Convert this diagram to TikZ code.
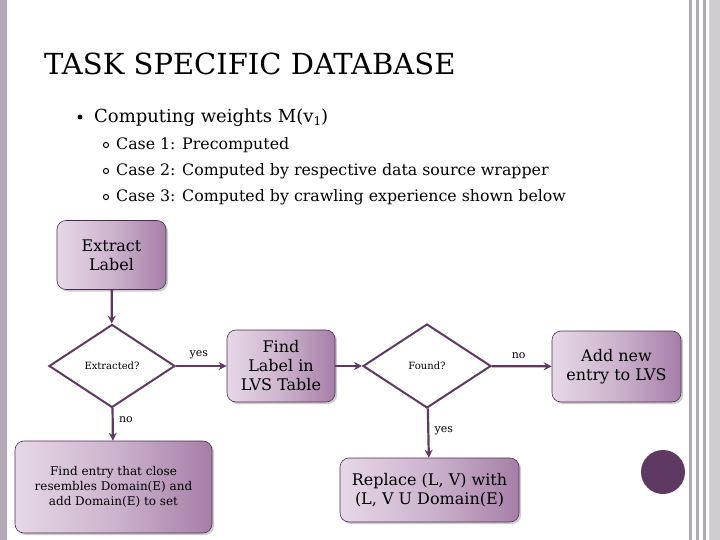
\documentclass[tikz,border=0pt]{standalone}
\usepackage{fontspec}
\setmainfont{DejaVu Serif}
\usetikzlibrary{shapes.geometric,arrows.meta,shadows}
\definecolor{dk}{HTML}{5E3A63}
\definecolor{lt}{HTML}{E6D8E6}
\definecolor{md}{HTML}{A67EA8}
\definecolor{bar}{HTML}{B4A8B8}
\begin{document}
\begin{tikzpicture}[x=1pt,y=-1pt,
 box/.style={draw=dk!80!black,line width=0.6pt,rounded corners=9pt,left color=lt,right color=md,middle color=lt!60!md,drop shadow={shadow xshift=2pt,shadow yshift=-2pt,opacity=0.4},align=center,inner sep=2pt,font=\fontsize{16}{19}\selectfont},
 dia/.style={draw=dk,line width=2pt,fill=white,diamond,aspect=1.5,font=\fontsize{10}{12}\selectfont,inner sep=0pt},
 arr/.style={draw=dk,line width=2.2pt,-{Stealth[length=8pt,width=8pt]}},
 lbl/.style={font=\fontsize{11}{14}\selectfont}]
\useasboundingbox (0,0) rectangle (720,540);
\fill[bar] (0,0) rectangle (7,540);
\fill[bar] (689,0) rectangle (692,540);
\fill[bar] (696,0) rectangle (699,540);
\fill[bar] (703,0) rectangle (706,540);
\fill[bar!60] (709,0) rectangle (720,540);
\node[anchor=base west,font=\fontsize{29}{30}\selectfont,inner sep=0pt] (title) at (44,75) {TASK SPECIFIC DATABASE};
\fill (80,117) circle (2.4);
\node[anchor=base west,font=\fontsize{18}{20}\selectfont,inner sep=0pt] (b1) at (94,123) {Computing weights M(v\raisebox{-0.3ex}{\fontsize{12}{12}\selectfont 1})};
\foreach \i/\t in {0/{Case 1: Precomputed},1/{Case 2: Computed by respective data source wrapper},2/{Case 3: Computed by crawling experience shown below}}{
 \draw[line width=1pt] (106,{145+26*\i}) circle (2.6);
 \node[anchor=base west,font=\fontsize{15.8}{18}\selectfont,inner sep=0pt] at (116,{150+26*\i}) {\t};}
\node[box,minimum width=109,minimum height=69] (ext) at (111.5,255) {Extract\\Label};
\node[dia,minimum width=126,minimum height=83] (d1) at (112,366) {Extracted?};
\node[box,minimum width=108,minimum height=72] (find) at (281,366) {Find\\Label in\\LVS Table};
\node[box,minimum width=197,minimum height=92,font=\fontsize{12}{15}\selectfont] (fe) at (113.5,487) {Find entry that close\\resembles Domain(E) and\\add Domain(E) to set};
\node[dia,minimum width=128,minimum height=84] (d2) at (427,366) {Found?};
\node[box,minimum width=129,minimum height=71] (add) at (616.5,366.5) {Add new\\entry to LVS};
\node[box,minimum width=179,minimum height=64] (rep) at (429.5,490) {Replace (L, V) with\\(L, V U Domain(E)};
\fill[dk] (663,472) circle (22);
\draw[arr] (ext) -- (d1);
\draw[arr] (d1) -- node[lbl,above,pos=0.45,yshift=3pt]{yes} (find);
\draw[arr] (d1) -- node[lbl,right,pos=0.35,xshift=2pt]{no} (fe);
\draw[arr] (find) -- (d2);
\draw[arr] (d2) -- node[lbl,above,pos=0.45,yshift=3pt]{no} (add);
\draw[arr] (d2) -- node[lbl,right,pos=0.45,xshift=2pt]{yes} (rep);
\end{tikzpicture}
\end{document}
